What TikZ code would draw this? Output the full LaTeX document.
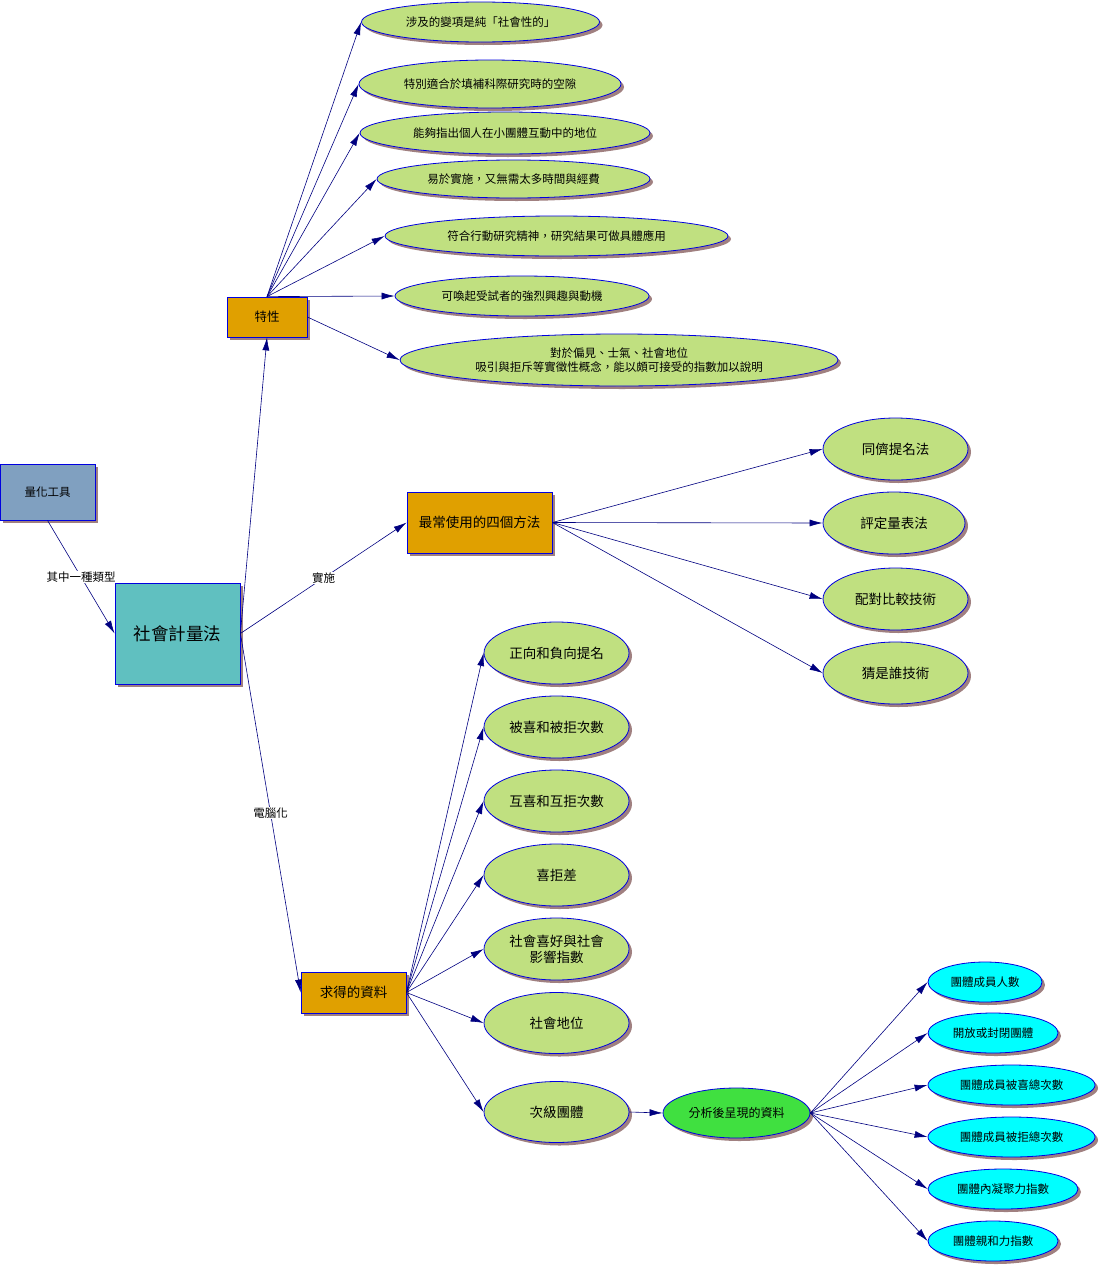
\documentclass[tikz,border=0pt]{standalone}
\usepackage{fontspec}
\setmainfont{Noto Sans CJK TC}
\usetikzlibrary{shapes.geometric,shadows,arrows.meta}

\definecolor{lnc}{HTML}{000080}
\definecolor{bdc}{HTML}{0000E0}
\definecolor{shc}{HTML}{A08080}
\definecolor{ovc}{HTML}{C0E080}
\definecolor{cyc}{HTML}{00FFFF}
\definecolor{grc}{HTML}{40E040}
\definecolor{orc}{HTML}{E0A000}
\definecolor{tlc}{HTML}{60C0C0}
\definecolor{stc}{HTML}{80A0C0}

\tikzset{
    box/.style={draw=bdc, line width=0.8pt, inner sep=0pt,
        drop shadow={fill=shc, opacity=1, shadow xshift=3pt, shadow yshift=-3pt}},
    oval/.style={box, ellipse, fill=ovc, font=\fontsize{11.5}{14}\selectfont},
    link/.style={draw=lnc, line width=0.6pt, -{Latex[length=13pt,width=7pt]}},
    lbl/.style={fill=white, inner sep=1pt, font=\fontsize{11.5}{14}\selectfont}
}

\begin{document}
\begin{tikzpicture}[x=1pt, y=-1pt]
                \useasboundingbox (0,0) rectangle (1101,1266);

                % boxes
                \node[box, fill=stc, minimum width=95pt, minimum height=56pt, font=\fontsize{11.5}{14}\selectfont] (q) at (47.5,492) {量化工具};
                \node[box, fill=tlc, minimum width=125pt, minimum height=101pt, font=\fontsize{17.5}{20}\selectfont] (s) at (177.5,633.5) {社會計量法};
                \node[box, fill=orc, minimum width=80pt, minimum height=40pt, font=\fontsize{12.5}{15}\selectfont] (t) at (267,317) {特性};
                \node[box, fill=orc, minimum width=145pt, minimum height=61pt, font=\fontsize{13.5}{16}\selectfont] (m) at (479.5,522.5) {最常使用的四個方法};
                \node[box, fill=orc, minimum width=105pt, minimum height=41pt, font=\fontsize{13.5}{16}\selectfont] (r) at (353.5,992.5) {求得的資料};

                % features
                \node[oval, minimum width=238pt, minimum height=40pt] (e1) at (480.5,22) {涉及的變項是純「社會性的」};
                \node[oval, minimum width=262pt, minimum height=48pt] (e2) at (490,84) {特別適合於填補科際研究時的空隙};
                \node[oval, minimum width=290pt, minimum height=42pt] (e3) at (505,133) {能夠指出個人在小團體互動中的地位};
                \node[oval, minimum width=273pt, minimum height=38pt] (e4) at (513.5,179) {易於實施，又無需太多時間與經費};
                \node[oval, minimum width=343pt, minimum height=40pt] (e5) at (556.5,236) {符合行動研究精神，研究結果可做具體應用};
                \node[oval, minimum width=254pt, minimum height=40pt] (e6) at (522,296) {可喚起受試者的強烈興趣與動機};
                \node[oval, minimum width=438pt, minimum height=52pt, align=center] (e7) at (619,360) {對於偏見、士氣、社會地位\\吸引與拒斥等實徵性概念，能以頗可接受的指數加以說明};

                % methods
                \node[oval, minimum width=145pt, minimum height=62pt, font=\fontsize{13.5}{16}\selectfont] (p1) at (895.5,449) {同儕提名法};
                \node[oval, minimum width=142pt, minimum height=62pt, font=\fontsize{13.5}{16}\selectfont] (p2) at (894,523) {評定量表法};
                \node[oval, minimum width=145pt, minimum height=62pt, font=\fontsize{13.5}{16}\selectfont] (p3) at (895.5,599) {配對比較技術};
                \node[oval, minimum width=145pt, minimum height=62pt, font=\fontsize{13.5}{16}\selectfont] (p4) at (895.5,673) {猜是誰技術};

                % data
                \node[oval, minimum width=145pt, minimum height=62pt, font=\fontsize{13.5}{16}\selectfont] (d1) at (556.5,653) {正向和負向提名};
                \node[oval, minimum width=145pt, minimum height=62pt, font=\fontsize{13.5}{16}\selectfont] (d2) at (556.5,727) {被喜和被拒次數};
                \node[oval, minimum width=145pt, minimum height=62pt, font=\fontsize{13.5}{16}\selectfont] (d3) at (556.5,801) {互喜和互拒次數};
                \node[oval, minimum width=145pt, minimum height=62pt, font=\fontsize{13.5}{16}\selectfont] (d4) at (556.5,875) {喜拒差};
                \node[oval, minimum width=145pt, minimum height=62pt, font=\fontsize{13.5}{16}\selectfont, align=center] (d5) at (556.5,949) {社會喜好與社會\\影響指數};
                \node[oval, minimum width=145pt, minimum height=61pt, font=\fontsize{13.5}{16}\selectfont] (d6) at (556.5,1023) {社會地位};
                \node[oval, minimum width=145pt, minimum height=61pt, font=\fontsize{13.5}{16}\selectfont] (d7) at (556.5,1112) {次級團體};
                \node[oval, fill=grc, minimum width=147pt, minimum height=50pt, font=\fontsize{12}{14}\selectfont] (a) at (736.5,1113) {分析後呈現的資料};

                % group data
                \node[oval, fill=cyc, minimum width=114pt, minimum height=40pt] (c1) at (985,982) {團體成員人數};
                \node[oval, fill=cyc, minimum width=130pt, minimum height=40pt] (c2) at (993,1033) {開放或封閉團體};
                \node[oval, fill=cyc, minimum width=167pt, minimum height=40pt] (c3) at (1011.5,1085) {團體成員被喜總次數};
                \node[oval, fill=cyc, minimum width=167pt, minimum height=40pt] (c4) at (1011.5,1137) {團體成員被拒總次數};
                \node[oval, fill=cyc, minimum width=150pt, minimum height=40pt] (c5) at (1003,1189) {團體內凝聚力指數};
                \node[oval, fill=cyc, minimum width=130pt, minimum height=40pt] (c6) at (993,1241) {團體親和力指數};

                \draw[link] (q.south) -- node[lbl] {其中一種類型} (s.west);
                \draw[link] (s.east) -- (t.south);
                \draw[link] (s.east) -- node[lbl] {實施} (m.west);
                \draw[link] (s.east) -- node[lbl] {電腦化} (r.west);

                \draw[link] (t.north) -- (e1.west);
                \draw[link] (t.north) -- (e2.west);
                \draw[link] (t.north) -- (e3.west);
                \draw[link] (t.north) -- (e4.west);
                \draw[link] (t.north) -- (e5.west);
                \draw[link] (t.north) -- (e6.west);
                \draw[link] (t.east) -- (e7.west);

                \draw[link] (m.east) -- (p1.west);
                \draw[link] (m.east) -- (p2.west);
                \draw[link] (m.east) -- (p3.west);
                \draw[link] (m.east) -- (p4.west);

                \draw[link] (r.east) -- (d1.west);
                \draw[link] (r.east) -- (d2.west);
                \draw[link] (r.east) -- (d3.west);
                \draw[link] (r.east) -- (d4.west);
                \draw[link] (r.east) -- (d5.west);
                \draw[link] (r.east) -- (d6.west);
                \draw[link] (r.east) -- (d7.west);
                \draw[link] (d7.east) -- (a.west);

                \draw[link] (a.east) -- (c1.west);
                \draw[link] (a.east) -- (c2.west);
                \draw[link] (a.east) -- (c3.west);
                \draw[link] (a.east) -- (c4.west);
                \draw[link] (a.east) -- (c5.west);
                \draw[link] (a.east) -- (c6.west);
            \end{tikzpicture}
\end{document}
